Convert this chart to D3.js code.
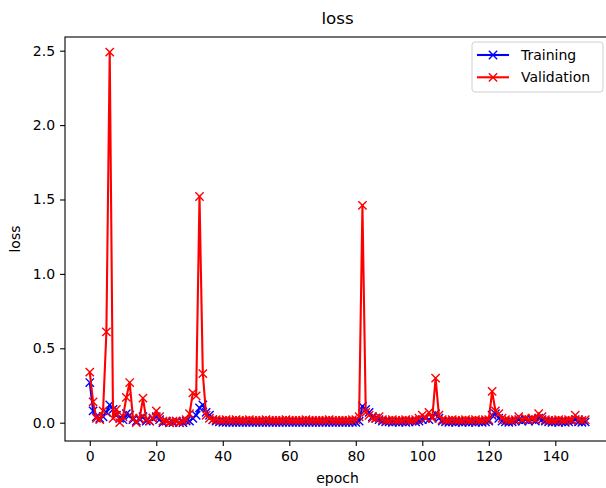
<!DOCTYPE html>
<html>
<head>
<meta charset="utf-8">
<script src="https://cdn.jsdelivr.net/npm/d3@7"></script>
<style>
  body { margin: 0; background: #fff; }
  svg { font-family: "DejaVu Sans", sans-serif; display: block; }
</style>
</head>
<body>
<svg id="chart" width="606" height="488"></svg>
<script>
// chart data (epoch index = position in the arrays)
const validation = [
  0.34, 0.14, 0.03, 0.02, 0.08, 0.61, 2.49, 0.03, 0.09, 0.00,
  0.04, 0.17, 0.27, 0.03, 0.00, 0.03, 0.165, 0.02, 0.01, 0.03,
  0.08, 0.04, 0.01, 0.01, 0.00, 0.01, 0.01, 0.00, 0.01, 0.02,
  0.06, 0.20, 0.18, 1.52, 0.33, 0.05, 0.03, 0.02, 0.02, 0.015,
  0.015, 0.02, 0.015, 0.015, 0.02, 0.015, 0.015, 0.015, 0.02, 0.015,
  0.015, 0.015, 0.015, 0.02, 0.015, 0.015, 0.015, 0.015, 0.015, 0.02,
  0.015, 0.015, 0.015, 0.015, 0.015, 0.02, 0.015, 0.015, 0.015, 0.015,
  0.015, 0.015, 0.02, 0.015, 0.015, 0.015, 0.015, 0.015, 0.015, 0.02,
  0.02, 0.04, 1.46, 0.07, 0.05, 0.03, 0.03, 0.04, 0.02, 0.015,
  0.015, 0.02, 0.015, 0.015, 0.015, 0.02, 0.015, 0.015, 0.02, 0.03,
  0.05, 0.03, 0.07, 0.03, 0.30, 0.05, 0.02, 0.015, 0.015, 0.02,
  0.015, 0.015, 0.015, 0.02, 0.015, 0.015, 0.02, 0.015, 0.015, 0.02,
  0.02, 0.21, 0.08, 0.06, 0.03, 0.02, 0.015, 0.015, 0.02, 0.04,
  0.02, 0.03, 0.02, 0.03, 0.02, 0.06, 0.04, 0.02, 0.015, 0.015,
  0.015, 0.02, 0.015, 0.015, 0.02, 0.015, 0.05, 0.02, 0.015, 0.02
];
const training = [
  0.27, 0.08, 0.04, 0.03, 0.04, 0.07, 0.12, 0.09, 0.05, 0.03,
  0.02, 0.06, 0.05, 0.02, 0.01, 0.02, 0.04, 0.01, 0.01, 0.03,
  0.04, 0.02, 0.00, 0.01, 0.00, 0.00, 0.01, 0.00, 0.00, 0.01,
  0.01, 0.03, 0.05, 0.10, 0.12, 0.07, 0.05, 0.02, 0.01, 0.005,
  0.003, 0.002, 0.003, 0.002, 0.003, 0.002, 0.003, 0.002, 0.003, 0.002,
  0.003, 0.002, 0.003, 0.002, 0.003, 0.002, 0.003, 0.002, 0.003, 0.002,
  0.003, 0.002, 0.003, 0.002, 0.003, 0.002, 0.003, 0.002, 0.003, 0.002,
  0.003, 0.002, 0.003, 0.002, 0.003, 0.002, 0.003, 0.002, 0.003, 0.002,
  0.003, 0.01, 0.11, 0.09, 0.07, 0.04, 0.03, 0.02, 0.01, 0.005,
  0.005, 0.003, 0.005, 0.003, 0.005, 0.003, 0.005, 0.01, 0.005, 0.01,
  0.02, 0.03, 0.02, 0.04, 0.06, 0.03, 0.01, 0.005, 0.003, 0.005,
  0.003, 0.005, 0.003, 0.005, 0.003, 0.005, 0.003, 0.005, 0.003, 0.005,
  0.01, 0.05, 0.06, 0.03, 0.01, 0.005, 0.003, 0.005, 0.01, 0.02,
  0.01, 0.02, 0.01, 0.02, 0.01, 0.03, 0.02, 0.01, 0.005, 0.003,
  0.005, 0.003, 0.005, 0.003, 0.005, 0.01, 0.02, 0.005, 0.003, 0.005
];
const xTicks = [0, 20, 40, 60, 80, 100, 120, 140];
const yTicks = [0.0, 0.5, 1.0, 1.5, 2.0, 2.5];
const seriesNames = ["Training", "Validation"];
const seriesColors = ["blue", "red"];

const plot = {left: 65, top: 37, right: 610, bottom: 441};
const svg = d3.select("#chart");

const x = d3.scaleLinear()
    .domain([-7.45, validation.length - 1 + 7.45])
    .range([plot.left, plot.right]);
const y = d3.scaleLinear()
    .domain([-0.123, 2.592])
    .range([plot.bottom, plot.top]);

// axes
const xAxis = svg.append("g")
    .attr("transform", `translate(0,${plot.bottom})`)
    .call(d3.axisBottom(x).tickValues(xTicks).tickFormat(d3.format("d")).tickSize(4.9).tickPadding(5));
const yAxis = svg.append("g")
    .attr("transform", `translate(${plot.left},0)`)
    .call(d3.axisLeft(y).tickValues(yTicks).tickFormat(d3.format(".1f")).tickSize(4.9).tickPadding(5));
[xAxis, yAxis].forEach(a => {
    a.select(".domain").remove();
    a.selectAll(".tick line").attr("stroke", "#000").attr("stroke-width", 1.1);
    a.selectAll(".tick text").attr("fill", "#000").style("font-size", "14px").style("font-family", "DejaVu Sans");
});

// frame
svg.append("rect")
    .attr("x", plot.left).attr("y", plot.top)
    .attr("width", plot.right - plot.left).attr("height", plot.bottom - plot.top)
    .attr("fill", "none").attr("stroke", "#000").attr("stroke-width", 1.1);

// series
const line = d3.line().x((d, i) => x(i)).y(d => y(d));
const half = 4.15;
function xMarker(sel, color) {
    sel.append("path")
        .attr("d", `M${-half},${-half}L${half},${half}M${-half},${half}L${half},${-half}`)
        .attr("stroke", color).attr("stroke-width", 1.4).attr("fill", "none");
}

[training, validation].forEach((data, k) => {
    const g = svg.append("g");
    g.append("path")
        .datum(data)
        .attr("d", line)
        .attr("fill", "none")
        .attr("stroke", seriesColors[k])
        .attr("stroke-width", 2.1)
        .attr("stroke-linejoin", "round");
    g.selectAll("g.pt")
        .data(data)
        .enter()
        .append("g")
        .attr("class", "pt")
        .attr("transform", (d, i) => `translate(${x(i)},${y(d)})`)
        .each(function() { xMarker(d3.select(this), seriesColors[k]); });
});

// title and labels
svg.append("text")
    .attr("x", (plot.left + plot.right) / 2).attr("y", 24)
    .attr("text-anchor", "middle")
    .style("font-size", "16.7px")
    .text("loss");
svg.append("text")
    .attr("x", (plot.left + plot.right) / 2).attr("y", 483)
    .attr("text-anchor", "middle")
    .style("font-size", "14px")
    .text("epoch");
svg.append("text")
    .attr("transform", `translate(20,${(plot.top + plot.bottom) / 2}) rotate(-90)`)
    .attr("text-anchor", "middle")
    .style("font-size", "14px")
    .text("loss");

// legend
const legend = svg.append("g").attr("transform", "translate(472,42)");
legend.append("rect")
    .attr("width", 131).attr("height", 50)
    .attr("rx", 3).attr("ry", 3)
    .attr("fill", "#fff").attr("fill-opacity", 0.8)
    .attr("stroke", "#d0d0d0").attr("stroke-width", 1);
seriesNames.forEach((name, k) => {
    const row = legend.append("g").attr("transform", `translate(0,${13 + k * 22.3})`);
    row.append("line")
        .attr("x1", 5).attr("x2", 37).attr("y1", 0).attr("y2", 0)
        .attr("stroke", seriesColors[k]).attr("stroke-width", 2.1);
    const m = row.append("g").attr("transform", "translate(21,0)");
    xMarker(m, seriesColors[k]);
    row.append("text")
        .attr("x", 49).attr("y", 5)
        .style("font-size", "14px")
        .text(name);
});
</script>
</body>
</html>
